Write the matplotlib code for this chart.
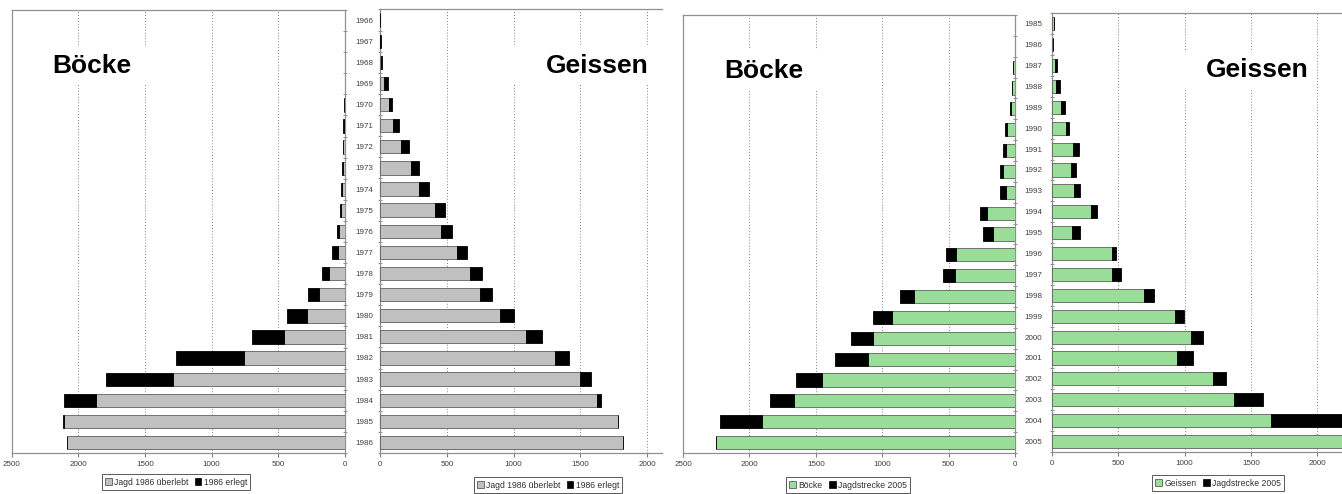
import numpy as np
import matplotlib
matplotlib.use("Agg")
import matplotlib.pyplot as plt
from matplotlib.patches import Rectangle, Patch

plt.rcParams['font.family'] = ['Liberation Sans', 'DejaVu Sans']

W, H = 1342, 494

# ---- chart 1: Jagd 1986 (Jahrgaenge 1966-1986)
years1 = [str(y) for y in range(1966, 1987)]
boecke1_ueberlebt = [0, 0, 0, 0, 6, 8, 12, 18, 20, 28, 45, 55, 118, 193, 283, 455, 755, 1288, 1868, 2105, 2088]
boecke1_erlegt = [0, 0, 0, 0, 2, 4, 5, 7, 8, 9, 13, 45, 57, 82, 150, 245, 513, 505, 237, 10, 0]
geissen1_ueberlebt = [2, 3, 8, 32, 65, 100, 154, 229, 294, 410, 458, 577, 677, 746, 896, 1090, 1306, 1498, 1622, 1779, 1821]
geissen1_erlegt = [0, 1, 8, 25, 22, 42, 62, 65, 72, 78, 79, 77, 89, 92, 104, 119, 107, 82, 35, 0, 0]

# ---- chart 2: Jagdstrecke 2005 (Jahrgaenge 1985-2005)
years2 = [str(y) for y in range(1985, 2006)]
boecke2 = [0, 0, 15, 22, 30, 58, 68, 92, 68, 212, 162, 442, 450, 757, 925, 1070, 1105, 1455, 1662, 1905, 2255]
boecke2_strecke = [0, 0, 2, 3, 8, 17, 19, 20, 44, 50, 80, 80, 95, 110, 142, 165, 247, 197, 185, 317, 0]
geissen2 = [10, 8, 20, 28, 65, 101, 159, 141, 166, 292, 151, 448, 453, 693, 927, 1045, 945, 1212, 1373, 1652, 2250]
geissen2_strecke = [0, 0, 13, 30, 33, 27, 40, 35, 46, 43, 58, 36, 68, 73, 65, 91, 115, 100, 221, 650, 0]

GREY = '#c0c0c0'
GREEN = '#99dd99'
TICK_FS = 5.8


def px(l, t, r, b):
    return [l / W, 1 - b / H, (r - l) / W, (b - t) / H]


def setup(ax, years, side, xmax, xticks, pad=5):
    n = len(years)
    y = np.arange(n)
    ax.set_ylim(n - 0.5, -0.5)
    ax.set_xlim((xmax, 0) if side == 'left' else (0, xmax))
    ax.set_xticks(xticks)
    ax.set_xticklabels([str(v) for v in xticks])
    ax.tick_params(axis='x', labelsize=TICK_FS, labelcolor='#404040', length=3,
                   color='#808080', pad=3)
    ax.set_yticks(y)
    ax.set_yticks(np.arange(-0.5, n), minor=True)
    if side == 'left':
        ax.yaxis.tick_right()
        ax.set_yticklabels([])
    else:
        ax.set_yticklabels(years)
    ax.tick_params(axis='y', which='major', length=0, labelsize=TICK_FS,
                   labelcolor='#404040', pad=pad)
    ax.tick_params(axis='y', which='minor', length=3, direction='inout', color='#808080')
    ax.xaxis.grid(True, linestyle=(0, (1, 2)), color='#808080', lw=0.7)
    ax.set_axisbelow(True)
    for s in ax.spines.values():
        s.set_color('#909090')
        s.set_linewidth(0.9)
    if side == 'right':
        ax.spines['right'].set_visible(False)


def bars(ax, base, extra, color):
    y = np.arange(len(base))
    ax.barh(y, base, height=0.63, color=color, edgecolor='#606060', lw=0.6, zorder=3)
    ax.barh(y, extra, left=base, height=0.63, color='black', edgecolor='black', lw=0.6, zorder=3)


def title(fig, box, txt, x, y, ha):
    l, t, r, b = box
    fig.patches.append(Rectangle((l / W, 1 - b / H), (r - l) / W, (b - t) / H,
                                 transform=fig.transFigure, facecolor='white',
                                 edgecolor='none', zorder=5))
    fig.text(x / W, 1 - y / H, txt, ha=ha, va='center', fontsize=19,
             fontweight='bold', zorder=6)


def legend(fig, ax, labels, color, cx, cy):
    handles = [Patch(facecolor=color, edgecolor='#404040', lw=0.5),
               Patch(facecolor='black', edgecolor='black', lw=0.5)]
    leg = ax.legend(handles, labels, loc='center', bbox_to_anchor=(cx / W, 1 - cy / H),
                    bbox_transform=fig.transFigure, ncol=2, fontsize=6.2,
                    frameon=True, fancybox=False, edgecolor='#303030',
                    handlelength=0.8, handleheight=0.8, handletextpad=0.3,
                    columnspacing=0.7, borderpad=0.35, borderaxespad=0)
    leg.get_frame().set_linewidth(0.7)
    for t in leg.get_texts():
        t.set_color('#303030')


fig = plt.figure(figsize=(W / 100, H / 100), dpi=100)

# chart 1
ax1 = fig.add_axes(px(11.6, 10, 345, 453))
setup(ax1, years1, 'left', 2500, [0, 500, 1000, 1500, 2000, 2500])
bars(ax1, boecke1_ueberlebt, boecke1_erlegt, GREY)
legend(fig, ax1, ['Jagd 1986 überlebt', '1986 erlegt'], GREY, 176, 482)

ax2 = fig.add_axes(px(380, 9.5, 662, 453))
setup(ax2, years1, 'right', (662 - 380) / (267.3 / 2000), [0, 500, 1000, 1500, 2000], pad=5)
bars(ax2, geissen1_ueberlebt, geissen1_erlegt, GREY)
legend(fig, ax2, ['Jagd 1986 überlebt', '1986 erlegt'], GREY, 548, 485)

# chart 2
ax3 = fig.add_axes(px(683, 15, 1015, 453))
setup(ax3, years2, 'left', 2500, [0, 500, 1000, 1500, 2000, 2500])
bars(ax3, boecke2, boecke2_strecke, GREEN)
legend(fig, ax3, ['Böcke', 'Jagdstrecke 2005'], GREEN, 848, 485)

ax4 = fig.add_axes(px(1052.3, 13.3, 1342, 452))
setup(ax4, years2, 'right', (1342 - 1052.3) / (264.7 / 2000), [0, 500, 1000, 1500, 2000], pad=7)
bars(ax4, geissen2, geissen2_strecke, GREEN)
legend(fig, ax4, ['Geissen', 'Jagdstrecke 2005'], GREEN, 1218, 483)

title(fig, (42, 47, 195, 85), 'Böcke', 52, 66, 'left')
title(fig, (505, 45, 657, 85), 'Geissen', 649, 66, 'right')
title(fig, (715, 50, 865, 90), 'Böcke', 724, 71, 'left')
title(fig, (1168, 50, 1317, 90), 'Geissen', 1309, 70, 'right')

fig.savefig('out.png', dpi=100)
